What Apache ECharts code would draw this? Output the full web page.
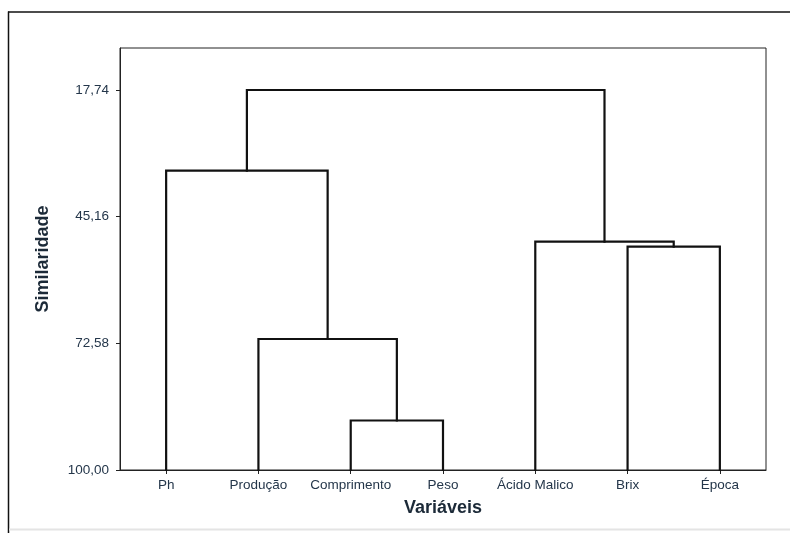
<!DOCTYPE html>
<html>
<head>
<meta charset="utf-8">
<script src="https://cdn.jsdelivr.net/npm/echarts@6/dist/echarts.min.js"></script>
<style>
html,body{margin:0;padding:0;background:#fff;}
#chart{width:790px;height:533px;}
</style>
</head>
<body>
<div id="chart"></div>
<script>
// Leaves (variables) in display order
const leaves = ['Ph', 'Produção', 'Comprimento', 'Peso', 'Ácido Malico', 'Brix', 'Época'];
// Linkage: node ids 0..6 are leaves, new clusters numbered 7, 8, ...
const mergeA = [2, 1, 0, 5, 4, 9];
const mergeB = [3, 7, 8, 6, 10, 11];
const mergeSimilarity = [89.28, 71.64, 35.21, 51.66, 50.58, 17.74];
// Y tick labels
const yTicks = [17.74, 45.16, 72.58, 100.00];
const yMin = 8.65, yMax = 100;

// positions of nodes
const nodeX = leaves.map((_, i) => i);
const nodeY = leaves.map(() => 100);
const series = [];
mergeA.forEach((a, k) => {
  const b = mergeB[k];
  const h = mergeSimilarity[k];
  const xa = nodeX[a], xb = nodeX[b];
  series.push({
    type: 'line',
    xAxisIndex: 1,
    yAxisIndex: 0,
    symbol: 'none',
    silent: true,
    lineStyle: { color: '#111', width: 2.2, join: 'miter', cap: 'square' },
    data: [[xa, nodeY[a]], [xa, h], [xb, h], [xb, nodeY[b]]],
    z: 5
  });
  nodeX.push((xa + xb) / 2);
  nodeY.push(h);
});

const fmt = v => v.toFixed(2).replace('.', ',');
const chart = echarts.init(document.getElementById('chart'), null, { renderer: 'canvas' });
chart.setOption({
  animation: false,
  backgroundColor: '#fff',
  textStyle: { fontFamily: 'Liberation Sans, Arial, sans-serif' },
  grid: { left: 120, right: 24, top: 48, bottom: 63, show: true, borderColor: '#222', borderWidth: 1, backgroundColor: 'transparent' },
  graphic: [
    { type: 'line', shape: { x1: 8.5, y1: 11.5, x2: 8.5, y2: 533 }, style: { stroke: '#111', lineWidth: 1.5 }, z: 100 },
    { type: 'line', shape: { x1: 8, y1: 12, x2: 790, y2: 12 }, style: { stroke: '#111', lineWidth: 1.5 }, z: 100 },
    { type: 'line', shape: { x1: 9, y1: 529.5, x2: 790, y2: 529.5 }, style: { stroke: '#e4e4e4', lineWidth: 2 }, z: 100 }
  ],
  xAxis: [
    {
      type: 'category',
      data: leaves,
      boundaryGap: true,
      position: 'bottom',
      axisLine: { show: true, lineStyle: { color: '#222', width: 1 } },
      axisTick: { show: true, alignWithLabel: true, interval: 0, length: 4, lineStyle: { color: '#222' } },
      axisLabel: { color: '#24364a', fontSize: 13.5, margin: 8, interval: 0 },
      splitLine: { show: false },
      name: 'Variáveis',
      nameLocation: 'middle',
      nameGap: 29,
      nameTextStyle: { fontSize: 18, fontWeight: 'bold', color: '#1c2a38' }
    },
    {
      type: 'value',
      min: -0.5,
      max: 6.5,
      show: false
    }
  ],
  yAxis: [{
    type: 'value',
    inverse: true,
    min: yMin,
    max: yMax,
    axisLine: { show: true, onZero: false, lineStyle: { color: '#222', width: 1 } },
    axisTick: { show: true, length: 4, customValues: yTicks, lineStyle: { color: '#222' } },
    axisLabel: { show: true, customValues: yTicks, formatter: v => fmt(v), color: '#24364a', fontSize: 13.5, margin: 11 },
    splitLine: { show: false },
    name: 'Similaridade',
    nameLocation: 'middle',
    nameRotate: 90,
    nameGap: 68,
    nameTextStyle: { fontSize: 18, fontWeight: 'bold', color: '#1c2a38' }
  }],
  series: series
});
</script>
</body>
</html>
